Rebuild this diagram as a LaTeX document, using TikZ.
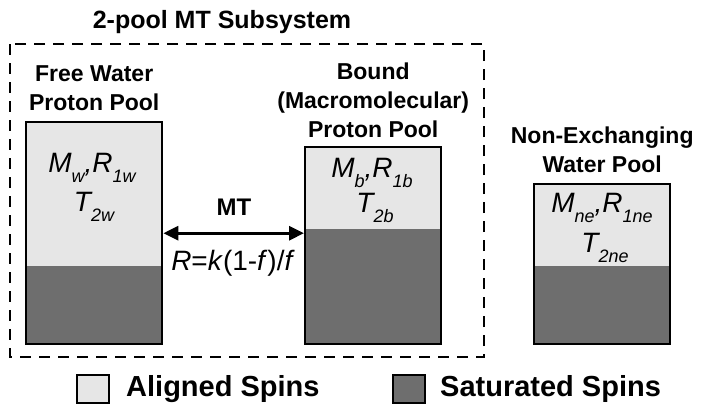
\documentclass[tikz,border=0pt]{standalone}
\usepackage{fontspec}
\setmainfont{Liberation Sans}
\usetikzlibrary{arrows.meta, positioning, calc}
\definecolor{aligned}{HTML}{E6E6E6}
\definecolor{saturated}{HTML}{6E6E6E}
\newcommand{\sbs}[1]{\raisebox{-0.38em}{\fontsize{18}{18}\selectfont #1}}

\begin{document}
\begin{tikzpicture}[x=1pt, y=-1pt,
  pool/.style={draw, line width=2.4pt, fill=aligned, inner sep=0pt, minimum width=136pt, anchor=north west,
    path picture={\fill[saturated] (path picture bounding box.south west) rectangle ([yshift=#1]path picture bounding box.south east);}},
  head/.style={font=\fontsize{23}{29}\selectfont\bfseries, align=center, inner sep=0pt},
  param/.style={font=\fontsize{28}{28}\selectfont\itshape, anchor=base, inner sep=0pt},
  key/.style={draw, line width=2pt, minimum width=32pt, minimum height=28pt, inner sep=0pt},
  keytext/.style={font=\fontsize{29}{29}\selectfont\bfseries, inner sep=0pt}]
\useasboundingbox (0,0) rectangle (701,415);
\node[font=\fontsize{25}{30}\selectfont\bfseries, anchor=base] (title) at (222,28) {2-pool MT Subsystem};
\draw[line width=2.4pt, dash pattern=on 11pt off 8pt] (10,44) rectangle (484,357);
% Pools
\node[pool=78pt, minimum height=222pt] (fw) at (25,121) {};
\node[pool=115pt, minimum height=197pt] (bp) at (304,146) {};
\node[pool=78pt, minimum height=160pt] (ne) at (533,183) {};
\node[head, above=10pt of fw] (fwlabel) {Free Water\\Proton Pool};
\node[head, above=8pt of bp] (bplabel) {Bound\\(Macromolecular)\\Proton Pool};
\node[head, above=10pt of ne] (nelabel) {Non-Exchanging\\Water Pool};
\node[param] (fwm) at (92,172) {M\sbs{w},R\sbs{1w}};
\node[param] (fwt) at (94,211) {T\sbs{2w}};
\node[param] (bpm) at (372,177) {M\sbs{b},R\sbs{1b}};
\node[param] (bpt) at (375,212) {T\sbs{2b}};
\node[param] (nem) at (602,212) {M\sbs{ne},R\sbs{1ne}};
\node[param] (net) at (605,252) {T\sbs{2ne}};
% Exchange
\draw[line width=3pt, {Triangle[length=15pt, width=14pt]}-{Triangle[length=15pt, width=14pt]}] (fw.east) -- (fw.east -| bp.west);
\node[font=\fontsize{24}{24}\selectfont\bfseries, anchor=base] (mt) at (234,215) {MT};
\node[font=\fontsize{28}{28}\selectfont, anchor=base] (rate) at (233,270) {\textit{R}=\textit{k}(1-\textit{f})/\textit{f}};
% Legend
\node[key, fill=aligned] (keyal) at (93,389) {};
\node[keytext, anchor=west, right=16pt of keyal] (altext) {Aligned Spins};
\node[key, fill=saturated] (keysat) at (409,389) {};
\node[keytext, anchor=west, right=14pt of keysat] (sattext) {Saturated Spins};
\end{tikzpicture}
\end{document}
